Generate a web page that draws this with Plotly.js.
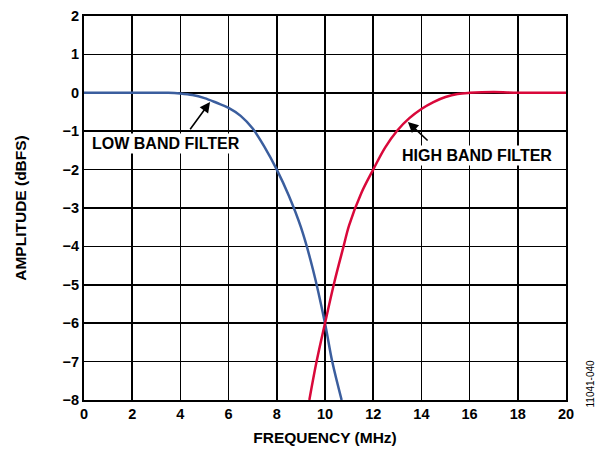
<!DOCTYPE html>
<html><head><meta charset="utf-8">
<script src="https://cdn.plot.ly/plotly-3.0.1.min.js"></script>
<style>html,body{margin:0;padding:0;background:#fff}#c{width:608px;height:451px}</style>
</head><body><div id="c"></div>
<script>
const lowFreq = [0, 1, 2, 3, 3.5, 4, 4.5, 5, 5.5, 6, 6.5, 7, 7.5, 8, 8.5, 9, 9.5, 10, 10.3, 10.69];
const lowAmp  = [0, 0, 0, 0, 0, -0.02, -0.06, -0.14, -0.26, -0.39, -0.6, -0.93, -1.42, -2.0, -2.68, -3.5, -4.6, -6.0, -7.0, -8.0];
const highFreq = [9.35, 9.65, 10, 10.4, 10.77, 11, 11.5, 12, 12.5, 13, 13.5, 14, 14.5, 15, 15.5, 16, 17, 18, 19, 20];
const highAmp  = [-8.0, -7.0, -6.0, -4.9, -4.0, -3.45, -2.62, -2.0, -1.42, -0.98, -0.66, -0.42, -0.24, -0.11, -0.03, 0.0, 0.02, 0.0, 0.0, 0.0];
const xTicks = [0, 2, 4, 6, 8, 10, 12, 14, 16, 18, 20];
const yTicks = [-8, -7, -6, -5, -4, -3, -2, -1, 0, 1, 2];

const fam = 'Liberation Sans, Arial, sans-serif';
const bold = (s) => ({family: fam, size: s, color: '#000', weight: 'bold'});
const traces = [
  {x: lowFreq, y: lowAmp, mode: 'lines', line: {color: '#3b5e9e', width: 2.5, shape: 'spline', smoothing: 1}, hoverinfo: 'none'},
  {x: highFreq, y: highAmp, mode: 'lines', line: {color: '#d9083a', width: 2.5, shape: 'spline', smoothing: 1}, hoverinfo: 'none'}
];
const axisCommon = {
  showgrid: true, gridcolor: '#000', gridwidth: 1.5,
  showline: true, linecolor: '#000', linewidth: 2, mirror: true,
  zeroline: false, ticks: '', fixedrange: true,
  tickfont: bold(14.5)
};
const layout = {
  width: 608, height: 451,
  margin: {l: 84, r: 42, t: 16, b: 51},
  paper_bgcolor: '#fff', plot_bgcolor: '#fff',
  showlegend: false,
  font: {family: fam, size: 13, color: '#000'},
  xaxis: Object.assign({}, axisCommon, {range: [0, 20], tickvals: xTicks, ticktext: xTicks.map(String),
    title: {text: 'FREQUENCY (MHz)', font: bold(15.5), standoff: 11}}),
  yaxis: Object.assign({}, axisCommon, {range: [-8, 2], tickvals: yTicks, ticktext: yTicks.map(v => v < 0 ? '\u2212' + Math.abs(v) : String(v)),
    title: {text: 'AMPLITUDE (dBFS)', font: bold(15.5), standoff: 32}}),
  annotations: [
    {x: 3.4, y: -1.31, xref: 'x', yref: 'y', text: 'LOW BAND FILTER', showarrow: false, bgcolor: '#fff',
     font: bold(16), borderpad: 1},
    {x: 16.31, y: -1.62, xref: 'x', yref: 'y', text: 'HIGH BAND FILTER', showarrow: false, bgcolor: '#fff',
     font: bold(16), borderpad: 1},
    {x: 5.23, y: -0.24, xref: 'x', yref: 'y', ax: 4.36, ay: -0.99, axref: 'x', ayref: 'y', text: '',
     showarrow: true, arrowhead: 2, arrowsize: 1.3, arrowwidth: 1.6, arrowcolor: '#000'},
    {x: 13.44, y: -0.76, xref: 'x', yref: 'y', ax: 14.32, ay: -1.28, axref: 'x', ayref: 'y', text: '',
     showarrow: true, arrowhead: 2, arrowsize: 1.3, arrowwidth: 1.6, arrowcolor: '#000'},
    {x: 0, y: 0, xref: 'paper', yref: 'paper', text: '11041-040', showarrow: false, textangle: -90,
     font: {family: fam, size: 10, color: '#000'}}
  ]
};
layout.annotations[4].x = (597 - 84) / (608 - 84 - 42);
layout.annotations[4].y = (400 - 410) / (400 - 16);
Plotly.newPlot('c', traces, layout, {staticPlot: true, displayModeBar: false});
</script>
</body></html>
